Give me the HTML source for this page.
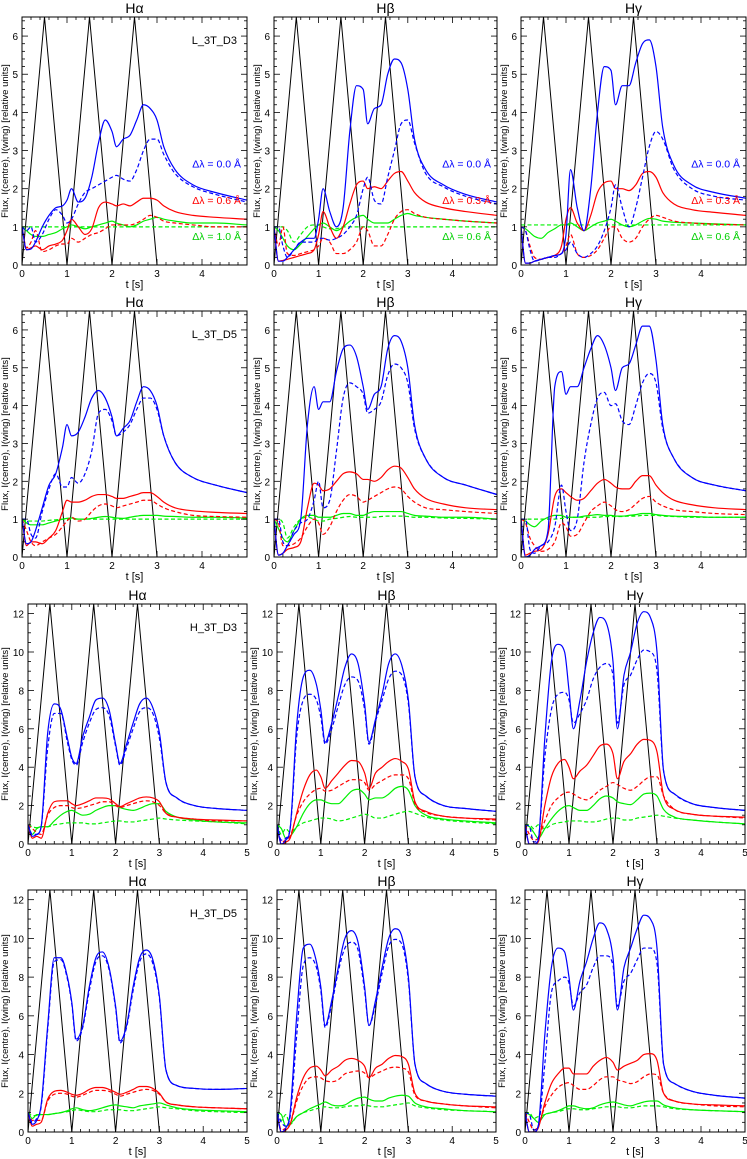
<!DOCTYPE html>
<html><head><meta charset="utf-8"><style>
body{margin:0;background:#fff;}
svg{display:block;font-family:"Liberation Sans",sans-serif;}
</style></head><body>
<svg id="fig" width="747" height="1159" viewBox="0 0 747 1159"></svg>
<script>
// shared sample times (s)
const times=[0,0.1,0.2,0.3,0.45,0.6,0.75,0.9,1.0,1.1,1.25,1.4,1.55,1.7,1.85,2.0,2.1,2.25,2.4,2.55,2.7,2.85,3.0,3.15,3.4,3.8,4.3,5.0];
// heating pulse (triangle) times
const pulseTimes=[0,0.5,1,1.5,2,2.5,3];
const pulseLevel=[0,1,0,1,0,1,0];
const panelTitles=["Hα","Hβ","Hγ"];
const modelNames=["L_3T_D3","L_3T_D5","H_3T_D3","H_3T_D5"];
const legendTexts=[["Δλ = 0.0 Å","Δλ = 0.6 Å","Δλ = 1.0 Å"],["Δλ = 0.0 Å","Δλ = 0.3 Å","Δλ = 0.6 Å"],["Δλ = 0.0 Å","Δλ = 0.3 Å","Δλ = 0.6 Å"]];
const yMaxByRow=[6.5,6.5,12.5,12.5];
const yTicksTop=[0,1,2,3,4,5,6];
const yTicksBottom=[0,2,4,6,8,10,12];
const xTicksTop=[0,1,2,3,4];
const xTicksBottom=[0,1,2,3,4,5];
// series per panel: [blueSolid, blueDash, redSolid, redDash, greenSolid, greenDash]
const p1bS=[1.0,0.4,0.42,0.6,1.0,1.3,1.5,1.55,1.7,2.0,1.65,1.75,2.3,3.2,3.8,3.5,3.1,3.3,3.4,3.8,4.2,4.1,3.8,3.1,2.5,2.1,1.9,1.7];
const p1bD=[1.0,0.9,1.0,0.6,0.8,1.2,1.45,1.3,1.1,1.2,1.6,1.9,2.0,2.1,2.2,2.3,2.35,2.25,2.2,2.5,3.0,3.3,3.3,2.9,2.4,2.05,1.85,1.65];
const p1rS=[1.0,0.4,0.45,0.5,0.4,0.5,0.55,0.65,0.9,1.2,1.0,0.8,0.95,1.5,1.65,1.6,1.55,1.6,1.55,1.65,1.75,1.75,1.7,1.55,1.4,1.3,1.25,1.2];
const p1rD=[1.0,0.45,0.6,0.9,0.35,0.4,0.5,0.55,0.55,0.7,0.6,0.7,0.8,0.85,0.95,1.05,1.05,1.05,1.05,1.1,1.2,1.3,1.25,1.15,1.1,1.05,1.0,1.0];
const p1gS=[1.0,0.9,0.8,0.75,0.75,0.8,0.85,0.95,1.0,1.05,1.0,0.95,1.0,1.05,1.1,1.15,1.1,1.05,1.0,1.05,1.15,1.2,1.25,1.2,1.15,1.1,1.1,1.05];
const p1gD=[1.0,1.0,1.0,1.0,1.0,1.0,1.0,1.0,1.0,1.0,1.0,1.0,1.0,1.0,1.0,1.0,1.0,1.0,1.0,1.0,1.0,1.0,1.0,1.0,1.0,1.0,1.0,1.0];
const p2bS=[1.0,0.1,0.1,0.2,0.4,0.6,0.7,0.7,1.2,2.0,1.4,1.0,1.5,3.5,4.7,4.6,3.7,4.1,4.2,5.0,5.4,5.3,4.6,3.3,2.5,2.1,1.85,1.65];
const p2bD=[1.0,1.0,0.5,0.2,0.4,0.6,0.6,0.6,0.7,0.7,0.65,0.7,0.8,1.0,1.3,2.0,2.3,1.7,1.6,2.3,3.0,3.7,3.8,3.2,2.4,2.05,1.8,1.6];
const p2rS=[1.0,0.1,0.12,0.15,0.2,0.25,0.3,0.4,0.8,1.4,1.0,0.7,1.0,1.6,2.1,2.2,2.0,2.05,2.0,2.2,2.4,2.45,2.2,1.9,1.65,1.5,1.4,1.3];
const p2rD=[1.0,0.5,1.0,0.3,0.25,0.3,0.35,0.4,0.5,0.7,0.6,0.3,0.3,0.4,0.6,1.0,0.9,0.5,0.5,0.8,1.2,1.4,1.45,1.35,1.25,1.2,1.15,1.1];
const p2gS=[1.0,0.9,0.7,0.5,0.4,0.55,0.75,0.95,1.05,1.1,1.0,0.9,1.0,1.15,1.25,1.3,1.2,1.1,1.1,1.1,1.2,1.3,1.35,1.3,1.25,1.2,1.15,1.1];
const p2gD=[1.0,1.0,1.0,0.9,0.6,0.8,1.0,1.05,1.05,1.0,0.95,0.95,1.0,1.0,1.0,1.0,1.0,1.0,1.0,1.0,1.0,1.0,1.0,1.0,1.0,1.0,1.0,1.0];
const p3bS=[1.0,0.05,0.05,0.1,0.15,0.2,0.25,0.3,0.8,2.5,1.5,0.9,2.0,4.0,5.2,5.1,4.2,4.7,4.7,5.3,5.8,5.9,5.2,3.6,2.6,2.1,1.9,1.75];
const p3bD=[1.0,0.9,0.4,0.1,0.15,0.2,0.2,0.3,0.4,0.6,0.3,0.2,0.3,0.5,0.9,1.5,2.1,1.5,1.0,1.5,2.3,3.1,3.5,3.3,2.5,2.0,1.8,1.7];
const p3rS=[1.0,0.05,0.05,0.1,0.15,0.2,0.25,0.5,1.2,1.5,1.1,0.9,1.3,1.9,2.15,2.2,2.0,2.0,1.95,2.1,2.4,2.45,2.3,1.9,1.6,1.45,1.38,1.3];
const p3rD=[1.0,0.9,0.5,0.2,0.15,0.2,0.25,0.3,0.5,0.8,0.3,0.2,0.25,0.4,0.7,1.0,1.0,0.7,0.6,0.7,1.0,1.2,1.3,1.25,1.15,1.1,1.07,1.05];
const p3gS=[1.0,0.95,0.85,0.75,0.7,0.85,0.95,1.05,1.05,1.1,1.0,0.9,1.0,1.1,1.15,1.2,1.15,1.05,1.0,1.05,1.15,1.22,1.2,1.15,1.12,1.1,1.08,1.05];
const p3gD=[1.05,1.05,1.05,1.05,1.05,1.05,1.05,1.05,1.05,1.05,1.05,1.05,1.05,1.05,1.05,1.05,1.05,1.05,1.05,1.05,1.05,1.05,1.05,1.05,1.05,1.05,1.05,1.05];
const p4bS=[1.0,0.35,0.4,0.7,1.3,1.9,2.2,2.9,3.5,3.2,3.3,3.7,4.2,4.4,4.2,3.7,3.2,3.4,3.6,4.1,4.5,4.4,4.0,3.2,2.5,2.1,1.9,1.7];
const p4bD=[1.0,1.0,0.6,0.5,1.2,1.8,2.2,1.85,1.85,2.1,1.95,2.2,2.8,3.8,3.9,3.6,3.2,3.3,3.5,3.9,4.2,4.2,3.9,3.2,2.5,2.1,1.9,1.7];
const p4rS=[1.0,0.3,0.4,0.4,0.35,0.5,0.7,1.2,1.5,1.45,1.45,1.5,1.6,1.65,1.65,1.6,1.55,1.55,1.6,1.65,1.7,1.7,1.6,1.45,1.3,1.22,1.18,1.15];
const p4rD=[1.0,0.7,0.4,0.3,0.4,0.5,0.6,0.8,0.95,1.05,0.95,1.0,1.2,1.35,1.4,1.35,1.3,1.35,1.4,1.45,1.5,1.5,1.4,1.3,1.2,1.1,1.07,1.05];
const p4gS=[1.0,0.9,0.85,0.85,0.85,0.9,0.95,1.0,1.02,1.03,1.0,1.0,1.02,1.05,1.07,1.05,1.03,1.02,1.05,1.08,1.1,1.1,1.1,1.08,1.07,1.05,1.05,1.03];
const p4gD=[1.0,0.95,0.95,0.95,0.95,0.97,0.98,1.0,1.0,1.0,1.0,1.0,1.0,1.0,1.0,1.0,1.0,1.0,1.0,1.0,1.0,1.0,1.0,1.0,1.0,1.0,1.0,1.0];
const p5bS=[1.0,0.05,0.1,0.3,0.6,1.0,3.5,4.5,3.9,4.1,4.1,4.9,5.5,5.6,5.3,4.5,3.9,4.3,4.5,5.5,5.85,5.7,5.0,3.5,2.6,2.1,1.9,1.65];
const p5bD=[1.0,1.0,0.4,0.3,0.7,0.9,1.0,1.5,2.0,1.3,1.5,2.8,4.2,4.6,4.5,4.3,3.8,3.9,4.1,4.8,5.1,5.0,4.6,3.4,2.6,2.1,1.9,1.65];
const p5rS=[1.0,0.05,0.1,0.2,0.25,0.4,1.3,1.95,1.9,1.75,1.8,2.0,2.2,2.25,2.2,2.05,2.05,2.0,2.1,2.3,2.4,2.35,2.1,1.8,1.55,1.4,1.3,1.25];
const p5rD=[1.0,0.9,0.3,0.3,0.35,0.5,0.8,1.0,0.9,0.6,0.8,1.2,1.5,1.65,1.6,1.45,1.5,1.6,1.7,1.8,1.85,1.8,1.6,1.45,1.3,1.25,1.2,1.15];
const p5gS=[1.0,0.75,0.5,0.4,0.7,1.0,1.1,1.1,1.05,1.05,1.05,1.1,1.15,1.15,1.1,1.1,1.15,1.2,1.2,1.2,1.2,1.2,1.15,1.1,1.08,1.05,1.05,1.0];
const p5gD=[1.0,1.0,0.9,0.5,0.8,1.0,1.05,1.0,0.95,0.95,1.0,1.02,1.05,1.07,1.05,1.05,1.05,1.05,1.07,1.08,1.08,1.08,1.07,1.05,1.05,1.03,1.02,1.0];
const p6bS=[1.0,0.0,0.05,0.2,0.3,0.7,4.5,4.9,4.3,4.5,4.5,5.0,5.5,5.85,5.6,5.0,4.4,5.0,5.1,5.6,6.1,6.1,5.2,3.5,2.6,2.1,1.9,1.75];
const p6bD=[1.0,1.0,0.2,0.1,0.3,0.4,0.8,1.9,1.2,0.7,1.0,2.5,3.5,4.2,4.35,4.0,4.05,3.6,3.5,4.0,4.6,4.85,4.6,3.4,2.6,2.1,1.9,1.75];
const p6rS=[1.0,0.05,0.1,0.15,0.2,0.6,1.6,1.8,1.7,1.6,1.5,1.55,1.75,1.95,2.05,1.95,1.85,1.8,1.8,2.0,2.15,2.15,1.9,1.7,1.5,1.38,1.3,1.25];
const p6rD=[1.0,0.9,0.5,0.3,0.15,0.2,0.4,0.9,0.8,0.55,0.6,0.9,1.2,1.35,1.45,1.35,1.25,1.2,1.25,1.4,1.55,1.6,1.45,1.35,1.25,1.2,1.15,1.12];
const p6gS=[1.0,0.95,0.85,0.8,0.95,1.05,1.1,1.1,1.05,1.05,1.05,1.08,1.1,1.12,1.1,1.1,1.08,1.08,1.1,1.12,1.15,1.15,1.12,1.1,1.08,1.07,1.05,1.05];
const p6gD=[1.0,1.0,1.0,1.0,1.0,1.0,1.0,1.02,1.03,1.05,1.05,1.05,1.05,1.05,1.07,1.07,1.07,1.07,1.08,1.08,1.1,1.1,1.1,1.08,1.07,1.05,1.05,1.05];
const p7bS=[1.0,0.4,0.5,0.9,5.8,7.3,7.0,5.5,4.5,4.2,5.6,6.6,7.5,7.6,7.0,5.2,4.2,5.2,6.3,7.3,7.6,7.1,5.8,3.2,2.4,2.0,1.85,1.75];
const p7bD=[1.0,0.5,0.5,0.9,5.0,6.8,6.8,5.3,4.4,4.1,5.3,6.3,7.0,7.1,6.7,5.1,4.1,5.0,6.0,6.9,7.1,6.8,5.5,3.2,2.4,2.0,1.85,1.75];
const p7rS=[1.0,0.3,0.4,0.3,1.6,2.2,2.25,2.25,2.1,2.0,2.1,2.25,2.4,2.4,2.35,2.1,1.95,2.1,2.25,2.4,2.45,2.4,2.2,1.6,1.4,1.3,1.25,1.2];
const p7rD=[1.0,0.8,0.6,0.5,1.5,1.9,2.0,2.0,1.9,1.85,1.9,2.0,2.1,2.2,2.2,2.0,1.9,2.0,2.1,2.2,2.25,2.2,2.0,1.6,1.4,1.3,1.2,1.2];
const p7gS=[1.0,0.5,0.8,0.9,0.9,1.2,1.5,1.7,1.75,1.65,1.5,1.55,1.75,1.9,2.0,2.0,1.9,1.8,1.75,1.85,2.0,2.1,2.1,1.7,1.4,1.25,1.15,1.1];
const p7gD=[1.0,0.9,0.85,0.9,0.9,1.0,1.05,1.1,1.1,1.1,1.1,1.05,1.05,1.1,1.15,1.2,1.2,1.15,1.15,1.2,1.25,1.3,1.35,1.3,1.25,1.2,1.15,1.05];
const p8bS=[1.0,0.0,0.2,0.8,6.2,8.7,9.05,8.3,7.0,5.3,6.3,7.7,9.2,9.9,9.4,7.3,5.3,6.5,7.8,9.4,9.9,9.3,7.5,3.5,2.5,2.0,1.85,1.7];
const p8bD=[1.0,0.2,0.3,0.8,5.6,7.5,7.8,7.5,6.6,5.2,6.0,7.2,8.3,8.7,8.5,7.0,5.2,6.4,7.5,8.6,9.0,8.8,7.3,3.5,2.5,2.0,1.85,1.7];
const p8rS=[1.0,0.0,0.1,0.3,1.6,2.8,3.6,3.85,3.5,2.9,3.3,3.7,4.1,4.35,4.3,3.7,2.9,3.7,4.0,4.3,4.45,4.3,3.9,2.2,1.7,1.45,1.35,1.3];
const p8rD=[1.0,0.1,0.2,0.4,1.5,2.2,2.6,2.85,2.9,2.75,2.8,3.0,3.2,3.35,3.35,3.2,2.8,3.1,3.3,3.5,3.6,3.6,3.4,2.1,1.65,1.45,1.35,1.25];
const p8gS=[1.0,0.8,0.3,0.4,0.9,1.6,2.1,2.3,2.3,2.2,2.1,2.1,2.4,2.75,2.85,2.6,2.3,2.4,2.4,2.6,2.9,3.0,2.8,2.0,1.5,1.3,1.2,1.1];
const p8gD=[1.0,0.5,0.8,0.6,0.9,1.1,1.2,1.3,1.35,1.35,1.3,1.2,1.25,1.35,1.45,1.55,1.5,1.35,1.35,1.45,1.55,1.65,1.7,1.6,1.4,1.25,1.15,1.05];
const p9bS=[1.0,0.0,0.0,0.2,5.5,9.5,10.4,10.0,8.0,6.0,7.5,9.5,11.0,11.8,11.5,9.5,6.0,8.8,10.0,11.5,12.1,11.8,10.0,3.8,2.6,2.1,1.9,1.75];
const p9bD=[1.0,0.9,0.1,0.3,4.5,7.0,7.8,7.9,7.5,6.3,6.8,7.5,8.6,9.2,9.4,8.8,6.3,8.3,8.8,9.6,10.1,10.0,9.0,3.8,2.6,2.1,1.9,1.75];
const p9rS=[1.0,0.0,0.0,0.1,2.0,3.5,4.2,4.4,4.0,3.4,3.8,4.1,4.6,5.1,5.2,4.7,3.4,4.3,4.7,5.2,5.45,5.4,4.8,2.5,1.8,1.55,1.45,1.4];
const p9rD=[1.0,0.5,0.2,0.3,1.2,2.0,2.4,2.65,2.7,2.6,2.4,2.3,2.5,2.8,3.0,3.2,3.1,2.9,2.8,3.0,3.3,3.5,3.5,2.5,1.8,1.55,1.45,1.35];
const p9gS=[1.0,0.9,0.6,0.3,0.8,1.3,1.7,1.95,2.0,1.9,1.75,1.75,2.0,2.35,2.5,2.4,2.2,2.1,2.05,2.3,2.6,2.65,2.5,1.8,1.4,1.25,1.15,1.05];
const p9gD=[1.0,1.0,0.8,1.0,0.8,1.0,1.1,1.15,1.2,1.2,1.2,1.15,1.15,1.2,1.3,1.35,1.35,1.25,1.25,1.35,1.4,1.45,1.5,1.45,1.35,1.25,1.15,1.05];
const p10bS=[1.0,0.4,0.6,1.4,5.5,9.0,9.0,8.0,6.7,4.8,5.5,7.5,9.0,9.3,8.5,6.5,4.7,5.5,7.5,9.0,9.4,8.9,7.0,3.2,2.4,2.25,2.2,2.25];
const p10bD=[1.0,0.5,0.7,1.3,5.3,8.8,8.9,7.9,6.6,4.7,5.4,7.3,8.8,9.1,8.4,6.4,4.6,5.4,7.3,8.8,9.2,8.7,6.9,3.2,2.4,2.25,2.2,2.25];
const p10rS=[1.0,0.3,0.4,0.5,1.7,2.1,2.15,2.05,1.95,1.9,2.0,2.2,2.3,2.3,2.2,2.05,1.95,2.05,2.2,2.35,2.35,2.25,2.0,1.55,1.4,1.3,1.25,1.2];
const p10rD=[1.0,0.6,0.6,0.6,1.6,1.95,2.0,1.95,1.85,1.8,1.9,2.05,2.15,2.15,2.1,1.95,1.85,1.95,2.05,2.15,2.2,2.15,1.95,1.55,1.4,1.3,1.25,1.2];
const p10gS=[1.0,0.7,0.9,0.9,0.9,0.95,1.0,1.1,1.2,1.25,1.15,1.1,1.15,1.25,1.35,1.4,1.35,1.3,1.25,1.35,1.4,1.45,1.5,1.4,1.25,1.15,1.1,1.05];
const p10gD=[1.0,0.85,0.85,0.9,0.9,0.95,1.0,1.05,1.1,1.15,1.1,1.05,1.05,1.1,1.15,1.15,1.15,1.1,1.1,1.15,1.2,1.25,1.3,1.25,1.2,1.1,1.05,1.0];
const p11bS=[1.0,0.0,0.2,1.0,6.0,9.5,9.7,8.8,7.5,5.5,6.8,8.5,10.0,10.4,9.8,7.5,5.5,6.8,8.5,10.0,10.5,10.1,8.0,3.5,2.5,2.1,1.95,1.85];
const p11bD=[1.0,0.5,0.3,0.8,5.0,8.6,9.0,8.5,7.3,5.4,6.6,8.3,9.5,9.8,9.4,7.3,5.5,6.6,8.2,9.6,9.95,9.7,7.8,3.5,2.5,2.1,1.95,1.85];
const p11rS=[1.0,0.0,0.1,0.4,1.8,2.8,3.3,3.4,3.2,2.9,3.2,3.4,3.7,3.8,3.7,3.4,2.8,3.3,3.5,3.8,3.95,3.9,3.5,2.0,1.6,1.45,1.35,1.3];
const p11rD=[1.0,0.1,0.2,0.4,1.6,2.4,2.8,2.85,2.8,2.65,2.6,2.7,3.0,3.1,3.15,3.05,2.8,3.0,3.15,3.3,3.35,3.3,3.1,1.9,1.6,1.45,1.35,1.25];
const p11gS=[1.0,0.9,0.3,0.4,0.8,1.0,1.2,1.35,1.45,1.55,1.4,1.35,1.4,1.6,1.75,1.8,1.7,1.6,1.6,1.75,1.85,1.9,1.85,1.5,1.3,1.2,1.1,1.05];
const p11gD=[1.0,0.6,0.9,0.4,0.8,1.0,1.1,1.2,1.25,1.3,1.25,1.25,1.3,1.35,1.35,1.4,1.35,1.3,1.3,1.35,1.4,1.45,1.5,1.35,1.25,1.15,1.1,1.05];
const p12bS=[1.0,0.0,0.0,0.3,5.0,8.5,9.5,9.3,8.0,6.3,7.8,8.8,10.0,10.8,10.5,9.0,6.3,8.5,9.5,10.5,11.2,11.0,9.5,3.5,2.5,2.1,1.9,1.75];
const p12bD=[1.0,0.9,0.1,0.3,3.5,7.2,7.8,8.0,7.7,6.5,7.2,7.6,8.5,9.1,9.1,8.6,6.5,7.8,8.2,8.9,9.5,9.5,8.7,3.5,2.5,2.1,1.9,1.75];
const p12rS=[1.0,0.0,0.0,0.2,1.5,2.5,3.0,3.3,3.3,3.0,3.0,3.0,3.4,3.7,3.85,3.6,3.2,3.4,3.55,3.7,4.0,4.05,3.7,2.0,1.6,1.45,1.4,1.35];
const p12rD=[1.0,0.5,0.1,0.3,1.3,1.9,2.3,2.5,2.55,2.4,2.2,2.2,2.4,2.7,2.85,2.85,2.7,2.6,2.5,2.6,2.85,3.0,2.95,2.0,1.6,1.45,1.35,1.3];
const p12gS=[1.0,0.9,0.7,0.5,0.9,1.0,1.1,1.25,1.35,1.35,1.25,1.2,1.25,1.4,1.5,1.55,1.5,1.4,1.35,1.45,1.55,1.6,1.6,1.4,1.25,1.15,1.1,1.05];
const p12gD=[1.0,1.0,0.7,0.8,0.9,1.0,1.05,1.15,1.2,1.2,1.15,1.15,1.2,1.25,1.3,1.3,1.3,1.25,1.25,1.3,1.35,1.35,1.35,1.3,1.2,1.15,1.1,1.05];

const panelSeries=[
 [p1bS,p1bD,p1rS,p1rD,p1gS,p1gD],[p2bS,p2bD,p2rS,p2rD,p2gS,p2gD],[p3bS,p3bD,p3rS,p3rD,p3gS,p3gD],
 [p4bS,p4bD,p4rS,p4rD,p4gS,p4gD],[p5bS,p5bD,p5rS,p5rD,p5gS,p5gD],[p6bS,p6bD,p6rS,p6rD,p6gS,p6gD],
 [p7bS,p7bD,p7rS,p7rD,p7gS,p7gD],[p8bS,p8bD,p8rS,p8rD,p8gS,p8gD],[p9bS,p9bD,p9rS,p9rD,p9gS,p9gD],
 [p10bS,p10bD,p10rS,p10rD,p10gS,p10gD],[p11bS,p11bD,p11rS,p11rD,p11gS,p11gD],[p12bS,p12bD,p12rS,p12rD,p12gS,p12gD]];
const seriesNames=["blue-centre","blue-wing-dashed","red-centre","red-dashed","green-centre","green-dashed"];
const seriesColors=["#0000ff","#0000ff","#ff0000","#ff0000","#00f000","#00f000"];

const NS="http://www.w3.org/2000/svg";
const svg=document.getElementById("fig");
function el(tag,attrs,parent){const e=document.createElementNS(NS,tag);for(const k in attrs)e.setAttribute(k,attrs[k]);(parent||svg).appendChild(e);return e;}

const rowTop=[17,311,604,890], rowBot=[265,557,844,1132];
const colLeftTop=[22,274,521], colRightTop=[247,497,746];
const colLeftBot=[28,277,525], colRightBot=[247,496,745];

function monotonePath(xs,ys){
  const n=xs.length, d=[], m=new Array(n);
  for(let i=0;i<n-1;i++)d.push((ys[i+1]-ys[i])/(xs[i+1]-xs[i]));
  m[0]=d[0];m[n-1]=d[n-2];
  for(let i=1;i<n-1;i++){m[i]=(d[i-1]*d[i]<=0)?0:(d[i-1]+d[i])/2;}
  for(let i=0;i<n-1;i++){if(d[i]===0){m[i]=0;m[i+1]=0;continue;}const a=m[i]/d[i],b=m[i+1]/d[i],s=a*a+b*b;if(s>9){const t=3/Math.sqrt(s);m[i]=t*a*d[i];m[i+1]=t*b*d[i];}}
  let p="M"+xs[0].toFixed(2)+","+ys[0].toFixed(2);
  for(let i=0;i<n-1;i++){const h=(xs[i+1]-xs[i])/3;
    p+=" C"+(xs[i]+h).toFixed(2)+","+(ys[i]+m[i]*h).toFixed(2)+" "+(xs[i+1]-h).toFixed(2)+","+(ys[i+1]-m[i+1]*h).toFixed(2)+" "+xs[i+1].toFixed(2)+","+ys[i+1].toFixed(2);}
  return p;
}

for(let r=0;r<4;r++){for(let c=0;c<3;c++){
  const idx=r*3+c, bottomRow=r>=2;
  const L=bottomRow?colLeftBot[c]:colLeftTop[c], R=bottomRow?colRightBot[c]:colRightTop[c];
  const T=rowTop[r], B=rowBot[r], ymax=yMaxByRow[r];
  const xs=t=>L+(R-L)*t/5, ys=v=>B-(B-T)*v/ymax;
  const g=el("g",{});
  
  
  const cid="clip"+idx;
  const cp=el("clipPath",{id:cid},g);el("rect",{x:L,y:T,width:R-L,height:B-T},cp);
  const ti=el("text",{x:(L+R)/2,y:T-4,"text-anchor":"middle","font-size":"14"},g);ti.textContent=panelTitles[c];
  
  const dg=el("g",{"clip-path":"url(#"+cid+")"},g);
  const pp=el("polyline",{points:pulseTimes.map((t,i)=>xs(t)+","+ys(pulseLevel[i]*ymax)).join(" "),fill:"none",stroke:"#000","stroke-width":"1"},dg);
  
  const S=panelSeries[idx];
  for(let k=5;k>=0;k--){
    const path=el("path",{d:monotonePath(times.map(xs),S[k].map(ys)),fill:"none",stroke:seriesColors[k],"stroke-width":"1.2"},dg);
    if(k%2===1)path.setAttribute("stroke-dasharray","4,2.5");
    
    
  }
  el("rect",{x:L,y:T,width:R-L,height:B-T,fill:"none",stroke:"#000","stroke-width":"1"},g);
  for(let t=0;t<=5.001;t+=0.2){const X=xs(t),maj=Math.abs(t-Math.round(t))<1e-6,len=maj?6:3;
    el("line",{x1:X,y1:B,x2:X,y2:B-len,stroke:"#000","stroke-width":"0.8"},g);
    el("line",{x1:X,y1:T,x2:X,y2:T+len,stroke:"#000","stroke-width":"0.8"},g);}
  const xt=bottomRow?xTicksBottom:xTicksTop;
  xt.forEach(v=>{const tx=el("text",{x:xs(v),y:B+12,"text-anchor":"middle","font-size":"10"},g);tx.textContent=v;});
  const xl=el("text",{x:(L+R)/2,y:B+23,"text-anchor":"middle","font-size":"11"},g);xl.textContent="t [s]";
  
  const minor=bottomRow?0.5:0.2;
  for(let v=0;v<=ymax+1e-6;v+=minor){const Y=ys(v),maj=bottomRow?(Math.abs(v/2-Math.round(v/2))<1e-6):(Math.abs(v-Math.round(v))<1e-6),len=maj?6:3;
    el("line",{x1:L,y1:Y,x2:L+len,y2:Y,stroke:"#000","stroke-width":"0.8"},g);
    el("line",{x1:R,y1:Y,x2:R-len,y2:Y,stroke:"#000","stroke-width":"0.8"},g);}
  const yt=bottomRow?yTicksBottom:yTicksTop;
  yt.forEach(v=>{const tx=el("text",{x:L-4,y:ys(v)+4,"text-anchor":"end","font-size":"10"},g);tx.textContent=v;});
  const yx=bottomRow?L-20:L-14, yy=(T+B)/2;
  const yl=el("text",{x:yx,y:yy,"text-anchor":"middle","font-size":"9.5",transform:"rotate(-90 "+yx+" "+yy+")"},g);
  yl.textContent="Flux, I(centre), I(wing) [relative units]";
  
  if(c===0){const mn=el("text",{x:R-10,y:T+27,"text-anchor":"end","font-size":"11"},g);mn.textContent=modelNames[r];
    }
  if(r===0){const ly=[2.55,1.6,0.65],lc=["#0000ff","#ff0000","#00d000"];
    for(let k=0;k<3;k++){const lt=el("text",{x:R-6,y:ys(ly[k]),"text-anchor":"end","font-size":"10.5",fill:lc[k]},g);lt.textContent=legendTexts[c][k];
      }}
}}
</script>
</body></html>
